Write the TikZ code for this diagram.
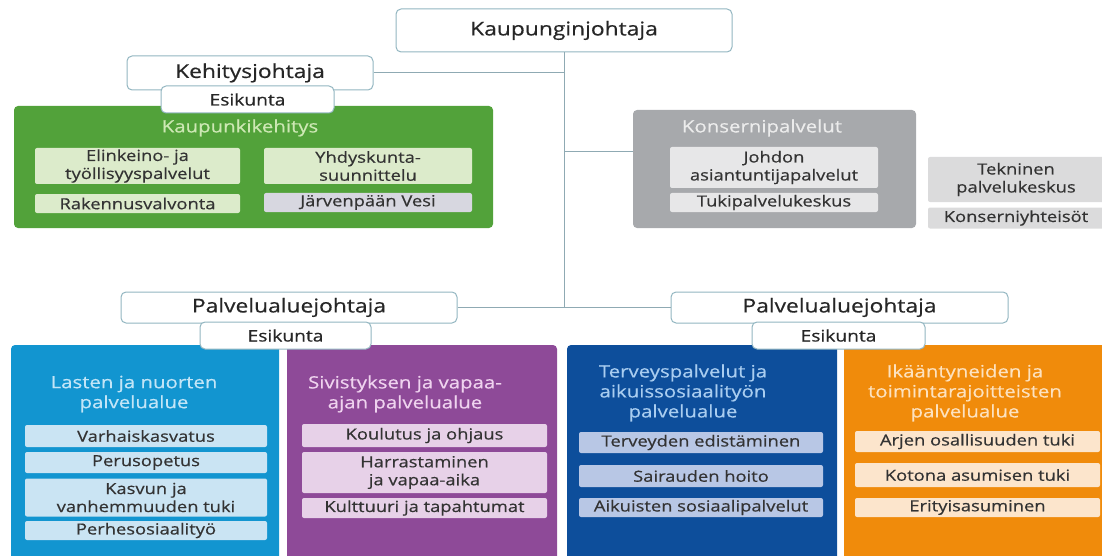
\documentclass[tikz,border=0pt]{standalone}
\usepackage{fontspec}
\setmainfont[FakeStretch=1.2,FakeBold=0.5]{Open Sans}
\usepackage{tikz}

\definecolor{edge}{HTML}{93B6C1}
\definecolor{wire}{HTML}{8FAAB3}
\definecolor{kkgreen}{HTML}{52A23A}
\definecolor{kklight}{HTML}{CDE8B4}
\definecolor{kkitem}{HTML}{DCEBCB}
\definecolor{vesiitem}{HTML}{D7D7E0}
\definecolor{kpgray}{HTML}{A7A9AC}
\definecolor{kplight}{HTML}{ECECEC}
\definecolor{kpitem}{HTML}{E7E7E8}
\definecolor{lnblue}{HTML}{1295D0}
\definecolor{lnlight}{HTML}{C2E5F7}
\definecolor{lnitem}{HTML}{CAE4F3}
\definecolor{svpurple}{HTML}{8E4A98}
\definecolor{svlight}{HTML}{EFD3EF}
\definecolor{svitem}{HTML}{E7D1E8}
\definecolor{tadark}{HTML}{0D4E9B}
\definecolor{talight}{HTML}{A9CDF0}
\definecolor{taitem}{HTML}{B8C7E5}
\definecolor{itorange}{HTML}{F08B0B}
\definecolor{itlight}{HTML}{FDE2BF}
\definecolor{ititem}{HTML}{FCE5CC}

\begin{document}
\begin{tikzpicture}[x=1pt,y=-1pt,line width=1pt,
	head/.style={draw=edge,fill=white,rounded corners=5pt,inner sep=0pt,text=black!85,font=\fontsize{19}{22}\selectfont},
	esik/.style={head,font=\fontsize{16}{19}\selectfont},
	panel/.style={rounded corners=4pt,inner sep=0pt},
	ttl/.style={align=center,font=\fontsize{17}{20}\selectfont},
	item/.style={rounded corners=2pt,inner sep=0pt,align=center,text=black!80,font=\fontsize{15.3}{18}\selectfont}]
	\useasboundingbox (0,0) rectangle (1102,556);
	% panels
	\node[panel,fill=kkgreen,minimum width=479pt,minimum height=122pt] (kk) at (253.5,167) {};
	\node[panel,fill=kpgray,minimum width=283pt,minimum height=118pt] (kp) at (774.5,169) {};
	\node[panel,fill=lnblue,minimum width=268pt,minimum height=217pt] (ln) at (145,453.5) {};
	\node[panel,fill=svpurple,minimum width=270pt,minimum height=217pt] (sv) at (422,453.5) {};
	\node[panel,fill=tadark,minimum width=270pt,minimum height=217pt] (ta) at (702,453.5) {};
	\node[panel,fill=itorange,minimum width=266pt,minimum height=217pt] (it) at (977,453.5) {};
	% panel titles
	\node[ttl,text=kklight] (kkt) at (240,128) {Kaupunkikehitys};
	\node[ttl,text=kplight] (kpt) at (762,128) {Konsernipalvelut};
	\node[ttl,text=lnlight] (lnt) at (134,394) {Lasten ja nuorten\\palvelualue};
	\node[ttl,text=svlight] (svt) at (405,394) {Sivistyksen ja vapaa-\\ajan palvelualue};
	\node[ttl,text=talight] (tat) at (683,393) {Terveyspalvelut ja\\aikuissosiaalityön\\palvelualue};
	\node[ttl,text=itlight] (itt) at (965,393) {Ikääntyneiden ja\\toimintarajoitteisten\\palvelualue};
	% items
	\node[item,fill=kkitem,minimum width=205pt,minimum height=36pt] (elin) at (137.5,166) {Elinkeino- ja\\työllisyyspalvelut};
	\node[item,fill=kkitem,minimum width=208pt,minimum height=36pt] (yhd) at (368,166) {Yhdyskunta-\\suunnittelu};
	\node[item,fill=kkitem,minimum width=205pt,minimum height=19pt] (rak) at (137.5,203.5) {Rakennusvalvonta};
	\node[item,fill=vesiitem,minimum width=208pt,minimum height=19pt] (vesi) at (368,202.5) {Järvenpään Vesi};
	\node[item,fill=kpitem,minimum width=208pt,minimum height=41pt] (joh) at (774,167.5) {Johdon\\asiantuntijapalvelut};
	\node[item,fill=kpitem,minimum width=208pt,minimum height=19pt] (tuki) at (774,202.5) {Tukipalvelukeskus};
	\node[item,fill=kpitem!95!black,minimum width=176pt,minimum height=45pt] (tek) at (1016,179.5) {Tekninen\\palvelukeskus};
	\node[item,fill=kpitem!95!black,minimum width=176pt,minimum height=21pt] (yht) at (1016,218) {Konserniyhteisöt};
	\node[item,fill=lnitem,minimum width=242pt,minimum height=22pt] (varh) at (146,436) {Varhaiskasvatus};
	\node[item,fill=lnitem,minimum width=242pt,minimum height=21pt] (perus) at (146,462.5) {Perusopetus};
	\node[item,fill=lnitem,minimum width=242pt,minimum height=38pt] (kasv) at (146,497.5) {Kasvun ja\\vanhemmuuden tuki};
	\node[item,fill=lnitem,minimum width=242pt,minimum height=19pt] (perhe) at (146,530.5) {Perhesosiaalityö};
	\node[item,fill=svitem,minimum width=245pt,minimum height=23pt] (koul) at (424.5,435.5) {Koulutus ja ohjaus};
	\node[item,fill=svitem,minimum width=245pt,minimum height=41pt] (harr) at (424.5,472.5) {Harrastaminen\\ja vapaa-aika};
	\node[item,fill=svitem,minimum width=245pt,minimum height=20pt] (kult) at (424.5,508) {Kulttuuri ja tapahtumat};
	\node[item,fill=taitem,minimum width=244pt,minimum height=21pt] (terv) at (701,442.5) {Terveyden edistäminen};
	\node[item,fill=taitem,minimum width=244pt,minimum height=22pt] (sair) at (701,476) {Sairauden hoito};
	\node[item,fill=taitem,minimum width=244pt,minimum height=19pt] (aik) at (701,507.5) {Aikuisten sosiaalipalvelut};
	\node[item,fill=ititem,minimum width=245pt,minimum height=21pt] (arj) at (977.5,441.5) {Arjen osallisuuden tuki};
	\node[item,fill=ititem,minimum width=245pt,minimum height=24pt] (kot) at (977.5,475) {Kotona asumisen tuki};
	\node[item,fill=ititem,minimum width=245pt,minimum height=19pt] (eri) at (977.5,507.5) {Erityisasuminen};
	% heads
	\node[head,minimum width=336pt,minimum height=43pt] (kj) at (564,30.5) {Kaupunginjohtaja};
	\node[head,minimum width=246pt,minimum height=34pt] (keh) at (250,73) {Kehitysjohtaja};
	\node[esik,minimum width=173pt,minimum height=27pt] (esik1) at (247.5,99.5) {Esikunta};
	\node[head,minimum width=336pt,minimum height=31pt] (pj1) at (289,307.5) {Palvelualuejohtaja};
	\node[esik,minimum width=171pt,minimum height=27pt] (esik2) at (285.5,335.5) {Esikunta};
	\node[head,minimum width=337pt,minimum height=31pt] (pj2) at (839.5,307.5) {Palvelualuejohtaja};
	\node[esik,minimum width=173pt,minimum height=27pt] (esik3) at (838.5,335.5) {Esikunta};
	% connectors
	\coordinate (kpin) at (633,152);
	\draw[wire] (kj.south) -- (kj.south |- pj1.east);
	\draw[wire] (keh.east) -- (keh.east -| kj.south);
	\draw[wire] (kpin) -- (kpin -| kj.south);
	\draw[wire] (pj1.east) -- (pj2.west);
\end{tikzpicture}
\end{document}
